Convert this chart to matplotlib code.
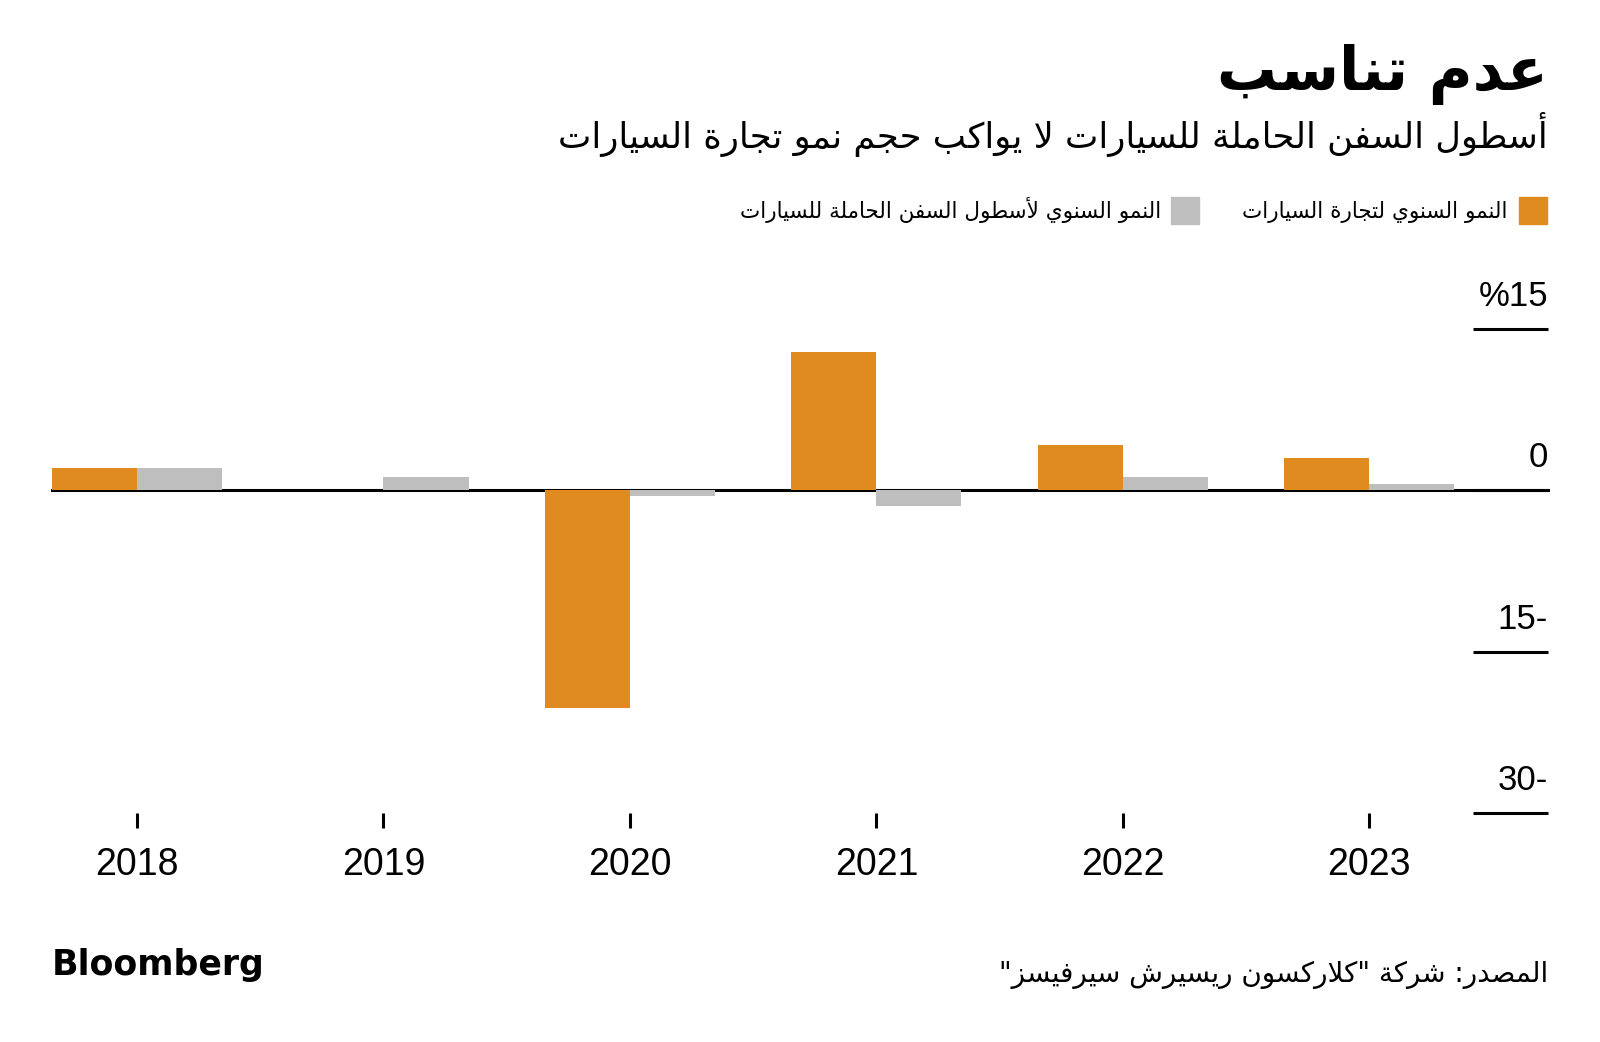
import numpy as np
import matplotlib
matplotlib.use("Agg")
import matplotlib.pyplot as plt

# data
years = ["2018", "2019", "2020", "2021", "2022", "2023"]
trade_growth = [2.1, 0.0, -20.2, 12.9, 4.2, 3.0]
fleet_growth = [2.1, 1.2, -0.5, -1.5, 1.2, 0.6]
y_ticks = [15, 0, -15, -30]
y_tick_labels = ["%15", "0", "15-", "30-"]

title = "عدم تناسب"
subtitle = "أسطول السفن الحاملة للسيارات لا يواكب حجم نمو تجارة السيارات"
legend_trade = "النمو السنوي لتجارة السيارات"
legend_fleet = "النمو السنوي لأسطول السفن الحاملة للسيارات"
source = "المصدر: شركة \"كلاركسون ريسيرش سيرفيسز\""

orange = "#E08B20"
grey = "#BEBEBE"

# matplotlib has no arabic shaping, so map letters to their presentation forms
# (base code point, number of forms) -> isolated, final, initial, medial
ARABIC_FORMS = {
    "\u0621": (0xFE80, 1), "\u0622": (0xFE81, 2), "\u0623": (0xFE83, 2), "\u0624": (0xFE85, 2),
    "\u0625": (0xFE87, 2), "\u0626": (0xFE89, 4), "\u0627": (0xFE8D, 2), "\u0628": (0xFE8F, 4),
    "\u0629": (0xFE93, 2), "\u062A": (0xFE95, 4), "\u062B": (0xFE99, 4), "\u062C": (0xFE9D, 4),
    "\u062D": (0xFEA1, 4), "\u062E": (0xFEA5, 4), "\u062F": (0xFEA9, 2), "\u0630": (0xFEAB, 2),
    "\u0631": (0xFEAD, 2), "\u0632": (0xFEAF, 2), "\u0633": (0xFEB1, 4), "\u0634": (0xFEB5, 4),
    "\u0635": (0xFEB9, 4), "\u0636": (0xFEBD, 4), "\u0637": (0xFEC1, 4), "\u0638": (0xFEC5, 4),
    "\u0639": (0xFEC9, 4), "\u063A": (0xFECD, 4), "\u0641": (0xFED1, 4), "\u0642": (0xFED5, 4),
    "\u0643": (0xFED9, 4), "\u0644": (0xFEDD, 4), "\u0645": (0xFEE1, 4), "\u0646": (0xFEE5, 4),
    "\u0647": (0xFEE9, 4), "\u0648": (0xFEED, 2), "\u0649": (0xFEEF, 2), "\u064A": (0xFEF1, 4),
}
LAM_ALEF = {"\u0622": 0xFEF5, "\u0623": 0xFEF7, "\u0625": 0xFEF9, "\u0627": 0xFEFB}


def shape(text):
    items = []
    i = 0
    while i < len(text):
        c = text[i]
        if c == "\u0644" and i + 1 < len(text) and text[i + 1] in LAM_ALEF:
            items.append(("LA", LAM_ALEF[text[i + 1]], 2))
            i += 2
        else:
            base, n = ARABIC_FORMS.get(c, (0, 0))
            items.append((c, base, n))
            i += 1
    out = []
    for k, (c, base, n) in enumerate(items):
        if n == 0:
            out.append(c)
            continue
        prev_joins = k > 0 and items[k - 1][2] == 4
        next_joins = n == 4 and k + 1 < len(items) and items[k + 1][2] >= 2
        if n == 1:
            code = base
        elif n == 2:
            code = base + (1 if prev_joins else 0)
        elif prev_joins and next_joins:
            code = base + 3
        elif prev_joins:
            code = base + 1
        elif next_joins:
            code = base + 2
        else:
            code = base
        out.append(chr(code))
    # right-to-left: reverse for display
    return "".join(reversed(out))


W, H = 1600, 1042
fig = plt.figure(figsize=(W / 100, H / 100), dpi=100)
fig.patch.set_facecolor("white")

def fx(px):
    return px / W

def fy(py):
    return 1 - py / H

arabic = ["DejaVu Sans"]
latin = ["Liberation Sans", "DejaVu Sans"]

# axes area in pixels: x 52..1548, y 329..813
ax = fig.add_axes([fx(52), fy(813), fx(1548) - fx(52), fy(329) - fy(813)])
x = np.arange(len(years))
w = 0.345
ax.bar(x - w / 2, trade_growth, width=w, color=orange, zorder=2)
ax.bar(x + w / 2, fleet_growth, width=w, color=grey, zorder=2)
ax.set_xlim(-w, 5.725)
ax.set_ylim(-30, 15)

# zero line across, short grid lines on the right
ax.axhline(0, color="black", linewidth=2.2, zorder=1, clip_on=False)
for v, lab in zip(y_ticks, y_tick_labels):
    ax.plot([0.9497, 1.0], [v, v], transform=ax.get_yaxis_transform(),
            color="black", linewidth=2.2, clip_on=False, solid_capstyle="butt")
    ax.annotate(lab, xy=(1.0, v), xycoords=ax.get_yaxis_transform(),
                xytext=(0, 16.5), textcoords="offset points",
                ha="right", va="baseline", fontsize=25, family=latin)

for s in ax.spines.values():
    s.set_visible(False)
ax.set_yticks([])
ax.set_xticks(x)
ax.set_xticklabels(years, fontsize=27, family=latin)
ax.tick_params(axis="x", direction="out", length=10.8, width=2.2, pad=14, color="black")

# titles
fig.text(fx(1548), fy(90), shape(title), ha="right", va="baseline",
         fontsize=43, fontweight="bold", family=arabic)
fig.text(fx(1548), fy(148), shape(subtitle), ha="right", va="baseline",
         fontsize=25.5, family=arabic)

# legend
fig.patches.append(plt.Rectangle((fx(1519), fy(224)), fx(28), 27 / H,
                                 transform=fig.transFigure, color=orange))
fig.text(fx(1508), fy(218), shape(legend_trade), ha="right", va="baseline",
         fontsize=15.5, family=arabic)
fig.patches.append(plt.Rectangle((fx(1171), fy(224)), fx(28), 27 / H,
                                 transform=fig.transFigure, color=grey))
fig.text(fx(1161), fy(218), shape(legend_fleet), ha="right", va="baseline",
         fontsize=15.5, family=arabic)

# footer
fig.text(fx(52), fy(975), "Bloomberg", ha="left", va="baseline",
         fontsize=25, fontweight="bold", family=["DejaVu Sans"])
fig.text(fx(1548), fy(982), shape(source), ha="right", va="baseline",
         fontsize=20, family=arabic)

fig.savefig("out.png", dpi=100)
